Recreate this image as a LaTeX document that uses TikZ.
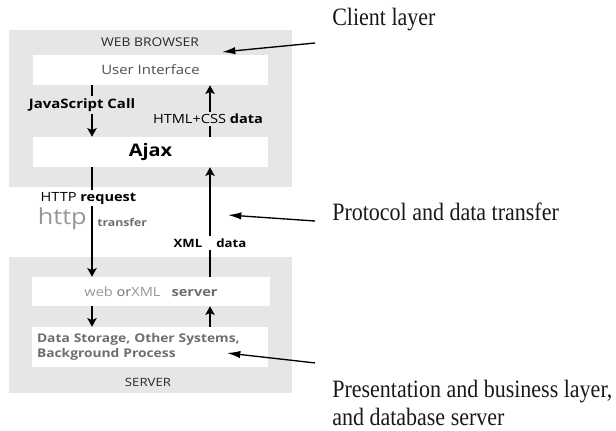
\documentclass[tikz,border=0pt]{standalone}
\usepackage{fontspec}
\usepackage{xcolor}
\usepackage{tikz}
\usetikzlibrary{arrows.meta}

\newfontfamily\boxfont[FakeStretch=1.15]{Open Sans}
\newfontfamily\notefont[FakeStretch=0.88]{Liberation Serif}
\newdimen\pxu \pxu=0.75pt

\definecolor{panelgray}{RGB}{230,230,230}
\definecolor{textdark}{RGB}{40,40,40}
\definecolor{textmid}{RGB}{80,80,80}
\definecolor{textsoft}{RGB}{110,110,110}
\definecolor{textpale}{RGB}{150,150,150}

\begin{document}
\begin{tikzpicture}[
    x=\pxu, y=-\pxu,
    panel/.style={rectangle, fill=panelgray, inner sep=0pt},
    layerbox/.style={rectangle, fill=white, inner sep=0pt, font=\boxfont\fontsize{9.5}{11}\selectfont},
    tag/.style={inner sep=2\pxu, font=\boxfont\bfseries\fontsize{9.5}{11}\selectfont},
    note/.style={inner sep=0pt, anchor=west, align=left, text=black!90, font=\notefont\fontsize{18.75}{21}\selectfont},
    flow/.style={line width=1.5pt, >={Stealth[length=6.5pt,width=7pt,inset=1.5pt]}},
    pointer/.style={->, line width=1pt, >={Latex[length=10pt,width=5.5pt]}}
]
\useasboundingbox (0,0) rectangle (616,430);

% Client side
\node[panel, minimum width=283\pxu, minimum height=157\pxu] (browser) at (150.5,108.5) {};
\node[inner sep=0pt, text=textdark, font=\boxfont\fontsize{9}{10}\selectfont] (browsertitle) at (150,42) {WEB BROWSER};
\node[layerbox, minimum width=235\pxu, minimum height=30\pxu, text=textmid, font=\boxfont\fontsize{9.75}{11}\selectfont] (ui) at (150.5,70) {User Interface};
\node[layerbox, minimum width=235\pxu, minimum height=30\pxu, font=\boxfont\bfseries\fontsize{13}{15}\selectfont] (ajax) at (150.5,152) {Ajax};

% Server side
\node[panel, minimum width=283\pxu, minimum height=136\pxu] (server) at (150.5,325) {};
\node[layerbox, minimum width=238\pxu, minimum height=29\pxu] (websrv) at (151,291.5)
    {\textcolor{textpale}{web} \textcolor{textsoft}{or}\textcolor{textpale}{XML}\hspace{11\pxu}\textcolor{textsoft}{\bfseries server}\hspace{8\pxu}};
\node[layerbox, minimum width=236\pxu, minimum height=40\pxu, inner xsep=5\pxu, text width=226\pxu, align=left,
    text=textsoft, font=\boxfont\bfseries\fontsize{9}{11.25}\selectfont] (store) at (150,347)
    {Data Storage, Other Systems,\\Background Process};
\node[inner sep=0pt, text=textdark, font=\boxfont\fontsize{8.6}{10}\selectfont] (servertitle) at (148,382) {SERVER};

% Connector labels
\coordinate (lx) at (92,0);
\coordinate (rx) at (210,0);
\node[tag, font=\boxfont\bfseries\fontsize{9.75}{11}\selectfont] (js) at (82,105) {JavaScript Call};
\node[tag] (html) at (208,119) {\mdseries HTML+CSS \bfseries data};
\node[tag] (req) at (88.5,198) {\mdseries HTTP \bfseries request};
\node[inner sep=0pt, anchor=east, text=textpale, font=\boxfont\fontsize{16.5}{18}\selectfont] (http) at (87,219) {http};
\node[inner sep=0pt, anchor=west, text=textsoft, font=\boxfont\bfseries\fontsize{8}{9}\selectfont] (transfer) at (97,222) {transfer};
\node[tag, font=\boxfont\bfseries\fontsize{8.6}{10}\selectfont] (xml) at (210,243) {XML\hspace{14\pxu}data};

% Flows
\draw[flow] (ui.south -| lx) -- (js.north -| lx);
\draw[flow, ->] (js.south -| lx) -- (ajax.north -| lx);
\draw[flow, ->] (html.north -| rx) -- (ui.south -| rx);
\draw[flow] (ajax.north -| rx) -- (html.south -| rx);
\draw[flow] (ajax.south -| lx) -- (req.north -| lx);
\draw[flow, ->] (req.south -| lx) -- (websrv.north -| lx);
\draw[flow] (websrv.north -| rx) -- (xml.south -| rx);
\draw[flow, ->] (xml.north -| rx) -- (ajax.south -| rx);
\draw[flow, ->] (websrv.south -| lx) -- (store.north -| lx);
\draw[flow, ->] (store.north -| rx) -- (websrv.south -| rx);

% Layer notes
\node[note] (client) at (332,20) {Client layer};
\node[note] (protocol) at (332,212) {Protocol and data transfer};
\node[note] (present) at (332,403) {Presentation and business layer,\\and database server};
\coordinate (clienttip) at (222,52);
\coordinate (protocoltip) at (228,215);
\coordinate (presenttip) at (227,353);
\draw[pointer] ([shift={(-17,23)}]client.west) -- (clienttip);
\draw[pointer] ([shift={(-17,9)}]protocol.west) -- (protocoltip);
\draw[pointer] ([shift={(-17,-17)}]present.north west) -- (presenttip);

\end{tikzpicture}
\end{document}
